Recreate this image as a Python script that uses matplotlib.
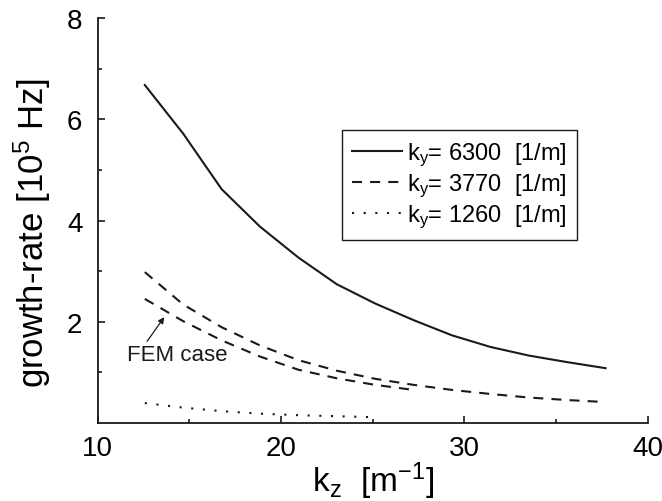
import matplotlib
matplotlib.use("Agg")
import matplotlib.pyplot as plt

plt.rcParams['font.family'] = ['Liberation Sans', 'DejaVu Sans']
plt.rcParams['mathtext.fontset'] = 'custom'
plt.rcParams['mathtext.rm'] = 'Liberation Sans'
plt.rcParams['mathtext.it'] = 'Liberation Sans'
plt.rcParams['mathtext.default'] = 'regular'

# data
kz = [12.57, 14.66, 16.76, 18.85, 20.94, 23.04, 25.13, 27.23, 29.32, 31.42, 33.51, 35.60, 37.70]
rate_6300 = [6.68, 5.72, 4.62, 3.88, 3.27, 2.74, 2.36, 2.03, 1.73, 1.50, 1.33, 1.20, 1.08]
rate_3770 = [2.98, 2.34, 1.89, 1.53, 1.24, 1.03, 0.87, 0.75, 0.65, 0.57, 0.50, 0.45, 0.41]
kz_fem = kz[:8]
rate_fem = [2.45, 2.01, 1.63, 1.31, 1.05, 0.88, 0.75, 0.65]
kz_1260 = kz[:7]
rate_1260 = [0.39, 0.30, 0.23, 0.18, 0.15, 0.13, 0.11]

labels = ['k$_y$= 6300  [1/m]', 'k$_y$= 3770  [1/m]', 'k$_y$= 1260  [1/m]']

ink = '#1a1a1a'
lw = 1.5

fig = plt.figure(figsize=(6.62, 5.02), dpi=100)
ax = fig.add_axes([0.1476, 0.1558, 0.8308, 0.8058])

ax.plot(kz, rate_6300, color=ink, lw=lw, label=labels[0])
ax.plot(kz, rate_3770, color=ink, lw=lw, dashes=(4.8, 3.9), label=labels[1])
ax.plot(kz_fem, rate_fem, color=ink, lw=lw, dashes=(4.8, 3.9))
ax.plot(kz_1260, rate_1260, color=ink, lw=lw, dashes=(1, 4.6), label=labels[2])

ax.annotate('FEM case', xy=(13.63, 2.09), xytext=(11.6, 1.24),
            fontsize=16, color=ink,
            arrowprops=dict(arrowstyle='-|>', color=ink, lw=0.9,
                            mutation_scale=9, shrinkA=0, shrinkB=0,
                            relpos=(0.18, 1.0)))

ax.set_xlim(10, 40)
ax.set_ylim(0, 8)
ax.set_xticks([10, 20, 30, 40])
ax.set_xticks([15, 25, 35], minor=True)
ax.set_yticks([2, 4, 6, 8])
ax.set_yticks([1, 3, 5, 7], minor=True)

for s in ['top', 'right']:
    ax.spines[s].set_visible(False)
for s in ['left', 'bottom']:
    ax.spines[s].set_linewidth(1.3)
    ax.spines[s].set_color(ink)

ax.tick_params(which='both', direction='in', color=ink, width=1.2)
ax.tick_params(which='major', length=5, labelsize=20, pad=9)
ax.tick_params(which='minor', length=3)
ax.tick_params(axis='y', which='major', pad=11)

ax.set_xlabel('k$_z$  [m$^{-1}$]', fontsize=24, labelpad=-1)
ax.set_ylabel('growth-rate [10$^5$ Hz]', fontsize=25)
ax.yaxis.set_label_coords(-0.081, 0.472)

leg = ax.legend(loc='upper left', bbox_to_anchor=(0.4436, 0.7239),
                fontsize=17, frameon=True, fancybox=False, framealpha=1,
                edgecolor=ink, handlelength=2.1, handletextpad=0.2,
                labelspacing=0.15, borderpad=0.45, borderaxespad=0)
leg.get_frame().set_linewidth(1.0)

fig.savefig('out.png', dpi=100)
